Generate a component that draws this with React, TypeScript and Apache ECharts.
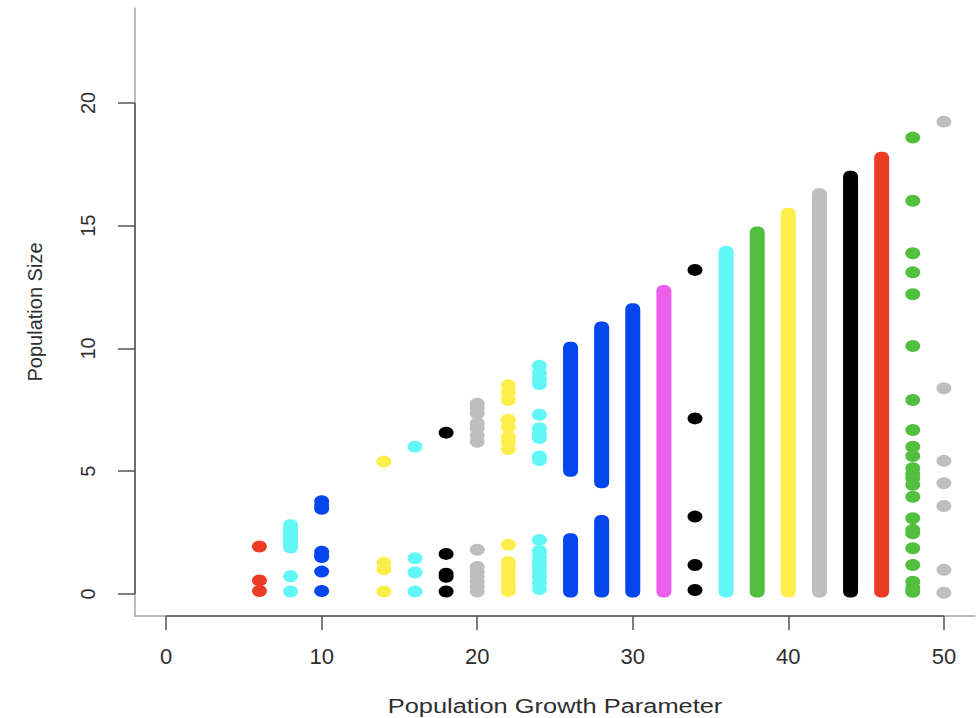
import React, { useEffect, useRef } from "react";
import * as echarts from "echarts";

// Population growth parameter (x) of each column of points
const growthParams = [6, 8, 10, 14, 16, 18, 20, 22, 24, 26, 28, 30, 32, 34, 36, 38, 40, 42, 44, 46, 48, 50];

// R palette colour name of each column
const columnColorNames = [
  "red", "cyan", "blue", "yellow", "cyan", "black", "gray", "yellow", "cyan", "blue", "blue",
  "blue", "magenta", "black", "cyan", "green", "yellow", "gray", "black", "red", "green", "gray",
];

const palette: Record<string, string> = {
  red: "#EC3D24",
  cyan: "#62F7F7",
  blue: "#0346EE",
  yellow: "#FDEE4B",
  black: "#000000",
  gray: "#BEBEBE",
  magenta: "#EC5FEC",
  green: "#52BF3E",
};

// Discrete population sizes read for each column
const columnPoints: number[][] = [
  [1.93, 0.55, 0.12],
  [0.72, 0.1],
  [3.78, 3.6, 3.47, 1.72, 1.57, 1.5, 0.91, 0.12],
  [5.39, 1.27, 1.0, 0.1],
  [6.0, 1.45, 0.87, 0.1],
  [6.57, 1.63, 0.82, 0.7, 0.1],
  [7.75, 7.55, 7.35, 6.95, 6.75, 6.45, 6.2, 1.8, 1.1, 0.9, 0.7, 0.5, 0.3, 0.1],
  [8.5, 8.2, 7.9, 7.1, 6.8, 6.4, 6.2, 5.9, 2.0, 1.3, 1.1, 0.9, 0.7, 0.5, 0.3, 0.12],
  [9.3, 9.0, 8.75, 8.55, 7.3, 6.75, 6.55, 6.35, 5.6, 5.45, 2.2, 1.75, 1.5, 1.3, 1.1, 0.9, 0.7, 0.45, 0.2],
  [],
  [],
  [],
  [],
  [13.2, 7.15, 3.15, 1.18, 0.16],
  [],
  [],
  [],
  [],
  [],
  [],
  [18.59, 16.02, 13.88, 13.1, 12.21, 10.1, 7.9, 6.68, 6.0, 5.62, 5.12, 4.9, 4.7, 4.45, 3.96, 3.08, 2.61, 2.47, 1.86, 1.18, 0.5, 0.25, 0.09],
  [19.24, 8.38, 5.42, 4.51, 3.58, 0.98, 0.05],
];

// Continuous bands of points [low, high] for each column
const columnBands: number[][][] = [
  [],
  [[1.9, 2.8]],
  [],
  [],
  [],
  [],
  [],
  [],
  [],
  [[5.02, 10.03], [0.1, 2.23]],
  [[4.55, 10.85], [0.1, 2.97]],
  [[0.1, 11.6]],
  [[0.1, 12.34]],
  [],
  [[0.1, 13.93]],
  [[0.1, 14.72]],
  [[0.1, 15.49]],
  [[0.1, 16.28]],
  [[0.1, 17.0]],
  [[0.1, 17.77]],
  [],
  [],
];

const xTicks = [0, 10, 20, 30, 40, 50];
const yTicks = [0, 5, 10, 15, 20];
const xTitle = "Population Growth Parameter";
const yTitle = "Population Size";

export default function App() {
  const ref = useRef<HTMLDivElement>(null);

  useEffect(() => {
    const chart = echarts.init(ref.current!, null, { renderer: "svg" });
    const X_MIN = -2;
    const X_MAX = 52;
    const Y_MIN = -0.9;
    const Y_MAX = 23.87;
    const DOT_W = 15;
    const DOT_H = 12;
    const font = "'Liberation Sans', Arial, Helvetica, sans-serif";
    const textColor = "#2e2e2e";
    const lightLine = "#a4a4a4";
    const darkLine = "#555555";

    const bandData: any[] = [];
    growthParams.forEach((x, i) => {
      const color = palette[columnColorNames[i]];
      columnBands[i].forEach(([lo, hi]) => {
        bandData.push({ value: [x, lo, hi], itemStyle: { color } });
      });
    });

    const series: any[] = [
      {
        type: "custom",
        name: "bands",
        data: bandData,
        encode: { x: 0, y: [1, 2] },
        silent: true,
        z: 3,
        renderItem: (params: any, api: any) => {
          const x = api.value(0);
          const top = api.coord([x, api.value(2)]);
          const bot = api.coord([x, api.value(1)]);
          return {
            type: "rect",
            shape: {
              x: top[0] - DOT_W / 2,
              y: top[1] - DOT_H / 2,
              width: DOT_W,
              height: bot[1] - top[1] + DOT_H,
              r: 6,
            },
            style: { fill: api.visual("color") },
          };
        },
      },
    ];

    growthParams.forEach((x, i) => {
      if (!columnPoints[i].length) return;
      series.push({
        type: "scatter",
        name: "r = " + x,
        data: columnPoints[i].map((v) => [x, v]),
        symbol: "circle",
        symbolSize: [DOT_W, DOT_H],
        itemStyle: { color: palette[columnColorNames[i]], opacity: 1 },
        silent: true,
        z: 3,
      });
    });

    // darker axis segments (axis line drawn over the box line)
    series.push({
      type: "line",
      name: "x axis line",
      data: [[xTicks[0], Y_MIN], [xTicks[xTicks.length - 1], Y_MIN]],
      symbol: "none",
      clip: false,
      silent: true,
      lineStyle: { color: darkLine, width: 1.5 },
      z: 5,
    });
    series.push({
      type: "line",
      name: "y axis line",
      data: [[X_MIN, yTicks[0]], [X_MIN, yTicks[yTicks.length - 1]]],
      symbol: "none",
      clip: false,
      silent: true,
      lineStyle: { color: darkLine, width: 1.5 },
      z: 5,
    });

    chart.setOption({
      animation: false,
      backgroundColor: "#ffffff",
      grid: { left: 135, right: 3, top: 8, bottom: 102, outerBoundsMode: "none", containLabel: false },
      xAxis: {
        type: "value",
        min: X_MIN,
        max: X_MAX,
        splitLine: { show: false },
        axisLine: { show: true, onZero: false, lineStyle: { color: lightLine, width: 1.5 } },
        axisTick: { show: true, customValues: xTicks, length: 14, lineStyle: { color: darkLine, width: 1.5 } },
        axisLabel: {
          customValues: xTicks,
          fontSize: 22,
          fontFamily: font,
          color: textColor,
          margin: 29,
        },
      },
      yAxis: {
        type: "value",
        min: Y_MIN,
        max: Y_MAX,
        name: yTitle,
        nameLocation: "middle",
        nameRotate: 90,
        nameGap: 90,
        nameTextStyle: { fontSize: 20, fontFamily: font, color: textColor },
        splitLine: { show: false },
        axisLine: { show: true, onZero: false, lineStyle: { color: lightLine, width: 1.5 } },
        axisTick: { show: true, customValues: yTicks, length: 17, lineStyle: { color: darkLine, width: 1.5 } },
        axisLabel: {
          customValues: yTicks,
          rotate: 90,
          fontSize: 20,
          fontFamily: font,
          color: textColor,
          margin: 37,
        },
      },
      graphic: [
        {
          type: "text",
          x: 555,
          y: 706,
          scaleX: 1.27,
          silent: true,
          style: {
            text: xTitle,
            fontSize: 20,
            fontFamily: font,
            fill: textColor,
            align: "center",
            verticalAlign: "middle",
            textAlign: "center",
            textVerticalAlign: "middle",
          },
        },
      ],
      series,
    });

    return () => chart.dispose();
  }, []);

  return (
    <div
      ref={ref}
      style={{ position: "fixed", left: 0, top: 0, width: 978, height: 718, background: "#ffffff" }}
    />
  );
}
